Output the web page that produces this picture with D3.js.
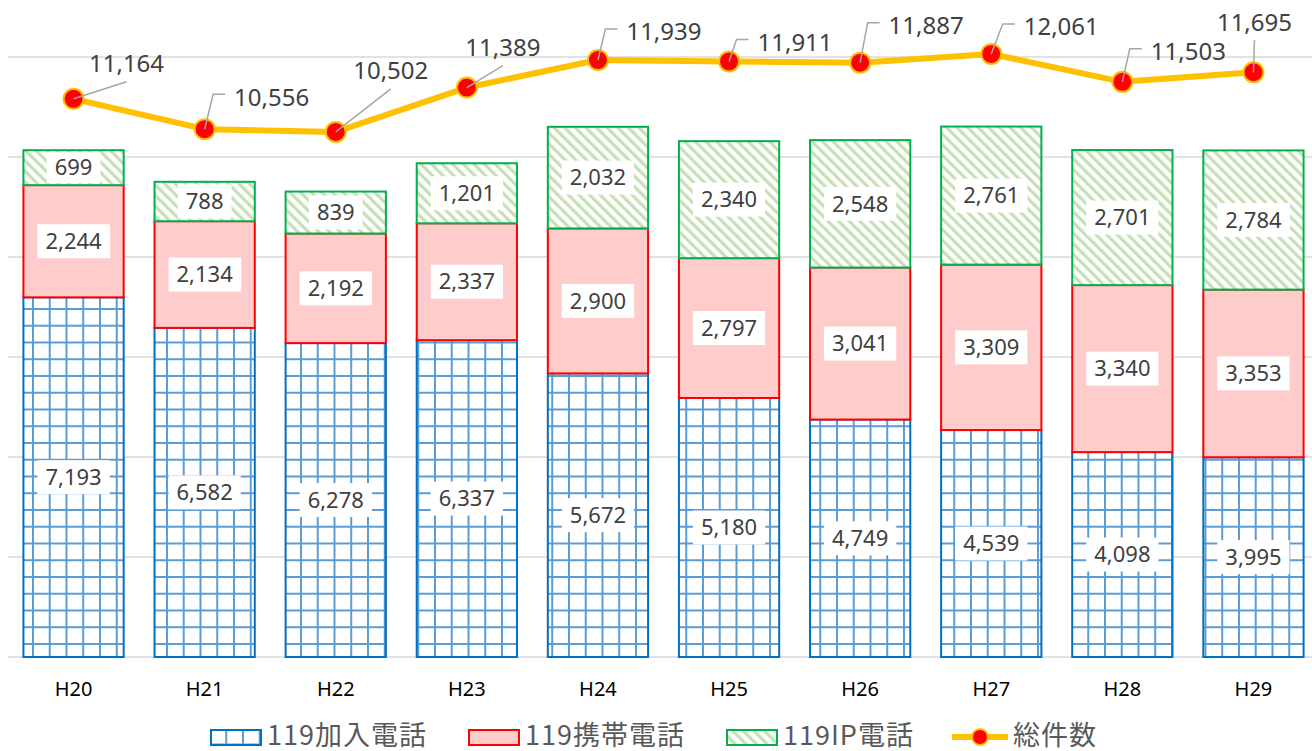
<!DOCTYPE html>
<html>
<head>
<meta charset="utf-8">
<script src="https://cdn.jsdelivr.net/npm/d3@7"></script>
<style>
  body { margin: 0; background: #fff; }
  svg { display: block; font-family: "Noto Sans", "Noto Sans CJK JP", sans-serif; }
</style>
</head>
<body>
<div class="chart"></div>
<script>
// data
var years = ["H20", "H21", "H22", "H23", "H24", "H25", "H26", "H27", "H28", "H29"];
var kanyu = [7193, 6582, 6278, 6337, 5672, 5180, 4749, 4539, 4098, 3995];
var keitai = [2244, 2134, 2192, 2337, 2900, 2797, 3041, 3309, 3340, 3353];
var ip = [699, 788, 839, 1201, 2032, 2340, 2548, 2761, 2701, 2784];
var total = [11164, 10556, 10502, 11389, 11939, 11911, 11887, 12061, 11503, 11695];
var yTicks = [0, 2000, 4000, 6000, 8000, 10000, 12000];
var seriesNames = ["119加入電話", "119携帯電話", "119IP電話", "総件数"];

// label placement for the line (offset of label centre from point, elbow leader or not)
var lineLabelPos = [
  {dx: 53, dy: -35, elbow: false},
  {dx: 67, dy: -32, elbow: true},
  {dx: 55, dy: -61, elbow: false},
  {dx: 36, dy: -40, elbow: false},
  {dx: 66, dy: -28, elbow: true},
  {dx: 66, dy: -19, elbow: true},
  {dx: 66, dy: -37, elbow: true},
  {dx: 70, dy: -27, elbow: true},
  {dx: 66, dy: -30, elbow: true},
  {dx: 1, dy: -50, elbow: false}
];

var width = 1312, height = 751;
var plot = {left: 8, right: 1319, top: 57, bottom: 657};
var fmt = d3.format(",");

var svg = d3.select(".chart").append("svg")
  .attr("width", width)
  .attr("height", height);

var defs = svg.append("defs");

// blue grid pattern
var pg = defs.append("pattern")
  .attr("id", "grid")
  .attr("patternUnits", "userSpaceOnUse")
  .attr("x", 33 - 1).attr("y", 510 - 1)
  .attr("width", 16.75).attr("height", 16.75);
pg.append("rect").attr("width", 16.75).attr("height", 16.75).attr("fill", "#fff");
pg.append("line").attr("x1", 1).attr("x2", 1).attr("y1", 0).attr("y2", 16.75)
  .attr("stroke", "#5b9bd5").attr("stroke-width", 2);
pg.append("line").attr("x1", 0).attr("x2", 16.75).attr("y1", 1).attr("y2", 1)
  .attr("stroke", "#5b9bd5").attr("stroke-width", 2);

// green diagonal stripes
var ps = defs.append("pattern")
  .attr("id", "stripes")
  .attr("patternUnits", "userSpaceOnUse")
  .attr("width", 7.5).attr("height", 7.5)
  .attr("patternTransform", "rotate(-45)");
ps.append("rect").attr("width", 7.5).attr("height", 7.5).attr("fill", "#fff");
ps.append("rect").attr("width", 3.2).attr("height", 7.5).attr("fill", "#c5e0b4");

var x = d3.scaleBand()
  .domain(years)
  .range([plot.left, plot.right])
  .paddingInner(0.22)
  .paddingOuter(0.11);

var y = d3.scaleLinear()
  .domain([0, 12000])
  .range([plot.bottom, plot.top]);

// gridlines
svg.append("g").attr("class", "grid")
  .selectAll("line")
  .data(yTicks)
  .enter().append("line")
    .attr("x1", plot.left).attr("x2", width)
    .attr("y1", function(d) { return y(d); })
    .attr("y2", function(d) { return y(d); })
    .attr("stroke", "#d9d9d9")
    .attr("stroke-width", 1.5);

// stacked bars
var rows = years.map(function(yr, i) {
  return {year: yr, kanyu: kanyu[i], keitai: keitai[i], ip: ip[i]};
});
var stack = d3.stack().keys(["kanyu", "keitai", "ip"]);
var layers = stack(rows);
var styles = {
  kanyu: {fill: "url(#grid)", stroke: "#0070c0"},
  keitai: {fill: "#ffcccc", stroke: "#ff0000"},
  ip: {fill: "url(#stripes)", stroke: "#00b050"}
};

var gl = svg.append("g").selectAll("g")
  .data(layers)
  .enter().append("g");

gl.selectAll("rect")
  .data(function(d) { return d.map(function(v) { v.key = d.key; return v; }); })
  .enter().append("rect")
    .attr("x", function(d) { return x(d.data.year) + 1; })
    .attr("width", x.bandwidth() - 2)
    .attr("y", function(d) { return y(d[1]); })
    .attr("height", function(d) { return y(d[0]) - y(d[1]); })
    .attr("fill", function(d) { return styles[d.key].fill; })
    .attr("stroke", function(d) { return styles[d.key].stroke; })
    .attr("stroke-width", 2);

// bar value labels
var bl = gl.selectAll("g.lab")
  .data(function(d) { return d; })
  .enter().append("g")
    .attr("class", "lab")
    .attr("transform", function(d) {
      return "translate(" + (x(d.data.year) + x.bandwidth() / 2) + "," + ((y(d[0]) + y(d[1])) / 2) + ")";
    });
bl.append("text")
  .attr("text-anchor", "middle")
  .attr("dy", "0.35em")
  .attr("font-size", 22)
  .attr("fill", "#404040")
  .text(function(d) { return fmt(d[1] - d[0]); });
bl.each(function(d) {
  var g = d3.select(this);
  var bb = g.select("text").node().getBBox();
  var segH = y(d[0]) - y(d[1]);
  var h = Math.min(34, segH - 4);
  g.insert("rect", "text")
    .attr("x", bb.x - 8).attr("width", bb.width + 16)
    .attr("y", -h / 2).attr("height", h)
    .attr("fill", "#fff");
});

// total line
var pts = years.map(function(yr, i) {
  return {x: x(yr) + x.bandwidth() / 2, y: y(total[i]), v: total[i], pos: lineLabelPos[i]};
});

svg.append("path")
  .datum(pts)
  .attr("fill", "none")
  .attr("stroke", "#ffc000")
  .attr("stroke-width", 6)
  .attr("stroke-linejoin", "round")
  .attr("d", d3.line().x(function(d) { return d.x; }).y(function(d) { return d.y; }));

svg.append("g").selectAll("circle")
  .data(pts)
  .enter().append("circle")
    .attr("cx", function(d) { return d.x; })
    .attr("cy", function(d) { return d.y; })
    .attr("r", 10)
    .attr("fill", "#ff0000")
    .attr("stroke", "#ffc000")
    .attr("stroke-width", 2);

// leaders + labels for the line
var ll = svg.append("g").selectAll("g")
  .data(pts)
  .enter().append("g");

ll.append("text")
  .attr("x", function(d) { return d.x + d.pos.dx; })
  .attr("y", function(d) { return d.y + d.pos.dy; })
  .attr("dy", "0.35em")
  .attr("text-anchor", "middle")
  .attr("font-size", 24)
  .attr("fill", "#404040")
  .text(function(d) { return fmt(d.v); });

ll.each(function(d) {
  var g = d3.select(this);
  var bb = g.select("text").node().getBBox();
  var cx = d.x + d.pos.dx, cy = d.y + d.pos.dy;
  var p;
  if (d.pos.elbow) {
    var left = bb.x;
    p = [[d.x, d.y], [left - 21, cy - 3], [left - 9, cy - 3]];
  } else {
    p = [[d.x, d.y], [cx, cy + 18]];
  }
  g.append("path")
    .attr("d", d3.line()(p))
    .attr("fill", "none")
    .attr("stroke", "#a6a6a6")
    .attr("stroke-width", 1.5);
});

// category axis labels
svg.append("g").selectAll("text")
  .data(years)
  .enter().append("text")
    .attr("x", function(d) { return x(d) + x.bandwidth() / 2; })
    .attr("y", 696)
    .attr("text-anchor", "middle")
    .attr("font-size", 20)
    .attr("fill", "#000")
    .text(function(d) { return d; });

// legend
var legend = svg.append("g").attr("transform", "translate(0,737)");
var legX = [210, 468, 726, 952];
var legFill = ["url(#grid)", "#ffcccc", "url(#stripes)"];
var legStroke = ["#0070c0", "#ff0000", "#00b050"];
var li = legend.selectAll("g")
  .data(seriesNames)
  .enter().append("g")
    .attr("transform", function(d, i) { return "translate(" + legX[i] + ",0)"; });
li.filter(function(d, i) { return i < 3; })
  .append("rect")
    .attr("x", 1).attr("y", -7)
    .attr("width", 50).attr("height", 15)
    .attr("fill", function(d, i) { return legFill[i]; })
    .attr("stroke", function(d, i) { return legStroke[i]; })
    .attr("stroke-width", 2);
li.filter(function(d, i) { return i === 3; })
  .call(function(g) {
    g.append("line").attr("x1", 0).attr("x2", 56).attr("y1", 0).attr("y2", 0)
      .attr("stroke", "#ffc000").attr("stroke-width", 6);
    g.append("circle").attr("cx", 28).attr("cy", 0).attr("r", 8)
      .attr("fill", "#ff0000").attr("stroke", "#ffc000").attr("stroke-width", 2);
  });
li.append("text")
  .attr("x", function(d, i) { return i < 3 ? 57 : 61; })
  .attr("y", -1)
  .attr("dy", "0.35em")
  .attr("font-family", "'Noto Sans CJK JP', sans-serif")
  .attr("font-size", 27)
  .attr("letter-spacing", 1)
  .attr("fill", "#595959")
  .text(function(d) { return d; });
</script>
</body>
</html>
